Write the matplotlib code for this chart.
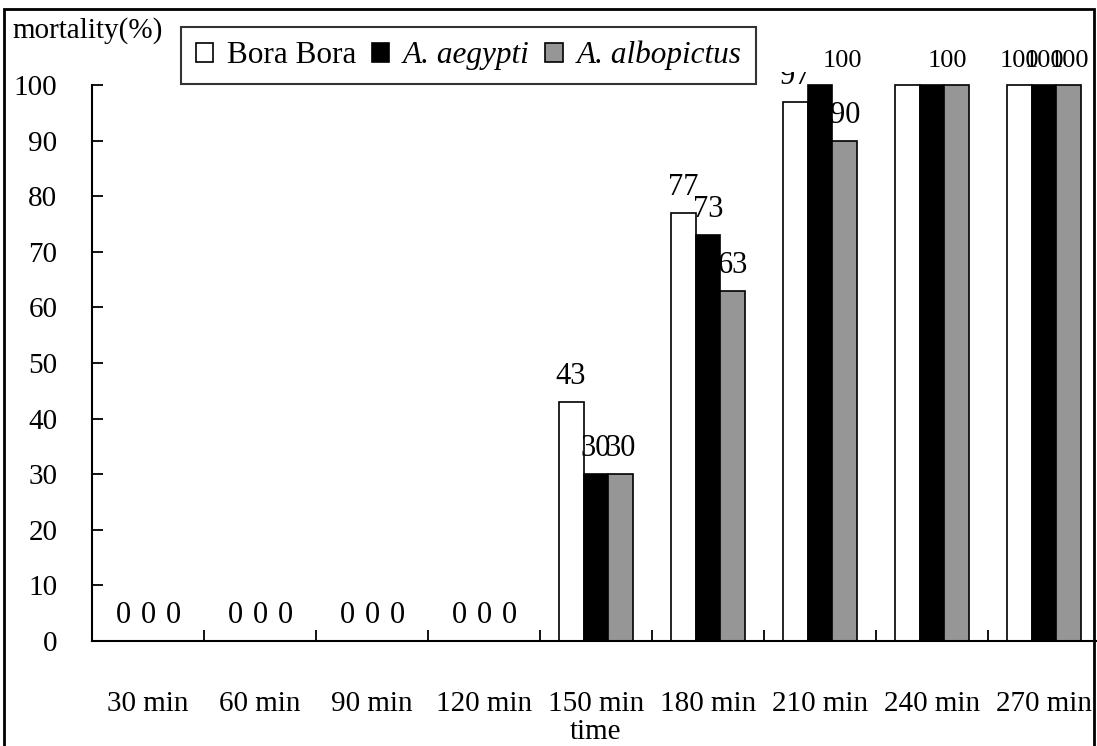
import matplotlib
matplotlib.use("Agg")
import matplotlib.pyplot as plt
import numpy as np
from matplotlib.patches import Rectangle
from matplotlib.transforms import Bbox, TransformedBbox

# ---- data -------------------------------------------------------------
categories = ["30 min", "60 min", "90 min", "120 min", "150 min",
              "180 min", "210 min", "240 min", "270 min"]
series_names = ["Bora Bora", "A. aegypti", "A. albopictus"]
bora_bora = [0, 0, 0, 0, 43, 77, 97, 100, 100]
aegypti = [0, 0, 0, 0, 30, 73, 100, 100, 100]
albopictus = [0, 0, 0, 0, 30, 63, 90, 100, 100]
y_ticks = [0, 10, 20, 30, 40, 50, 60, 70, 80, 90, 100]

# ---- style ------------------------------------------------------------
plt.rcParams["font.family"] = ["Liberation Serif", "DejaVu Serif"]
W, H = 1097, 746
bar_colors = ["white", "black", "#969696"]
bar_width = 0.223
# (category, series) -> horizontal nudge of the value label in points
label_shift = {(6, 1): 16, (7, 1): 11}
# value labels left out where they would pile on top of each other
hidden_labels = {(7, 0), (7, 2)}
# the "97" label is partly covered by the background of the "100" label
covered_label = (6, 0)
cover_level = 102.3

fig = plt.figure(figsize=(W / 100, H / 100), dpi=100)
ax = fig.add_axes([92 / W, 1 - 641 / H, (1100 - 92) / W, (641 - 85) / H])

x = np.arange(len(categories))
series = [bora_bora, aegypti, albopictus]

for i, (vals, col, name) in enumerate(zip(series, bar_colors, series_names)):
    ax.bar(x + (i - 1) * bar_width, vals, bar_width, color=col,
           edgecolor="black", linewidth=1.2, label=name, clip_on=False,
           zorder=2)

for i, vals in enumerate(series):
    for j, v in enumerate(vals):
        if (j, i) in hidden_labels:
            continue
        t = ax.annotate(f"{v:g}", xy=(x[j] + (i - 1) * bar_width, v),
                        xytext=(label_shift.get((j, i), 0), 13),
                        textcoords="offset points", ha="center",
                        va="baseline", fontsize=19 if v >= 100 else 22,
                        zorder=3, annotation_clip=False)
        if (j, i) == covered_label:
            t.set_clip_box(TransformedBbox(
                Bbox.from_extents(-1, -10, len(categories) + 1, cover_level),
                ax.transData))
            t.set_clip_on(True)

ax.set_xlim(-0.5, len(categories) - 0.5)
ax.set_ylim(0, 100)
ax.set_xticks(x)
ax.set_xticklabels(categories)
ax.set_xticks(np.arange(0.5, len(categories), 1.0), minor=True)
ax.set_yticks(y_ticks)

ax.tick_params(axis="x", which="major", length=0, pad=36, labelsize=21)
ax.tick_params(axis="x", which="minor", direction="in", length=8, width=1.3)
ax.tick_params(axis="y", direction="in", length=8, width=1.3, pad=25,
               labelsize=21)

for side in ("top", "right"):
    ax.spines[side].set_visible(False)
for side in ("left", "bottom"):
    ax.spines[side].set_linewidth(1.5)

ax.set_xlabel("time", fontsize=21)
ax.xaxis.set_label_coords(0.5, -(719 - 641) / (641 - 85))

fig.text(12 / W, 1 - 31 / H, "mortality(%)", ha="left", va="center",
         fontsize=21)

handles, labels = ax.get_legend_handles_labels()
leg = fig.legend(handles, labels, loc="center",
                 bbox_to_anchor=(468.5 / W, 1 - 55.5 / H), ncol=3,
                 frameon=True, fancybox=False, edgecolor="black",
                 fontsize=22.5, handlelength=0.55, handleheight=0.55,
                 handletextpad=0.45, columnspacing=0.5, borderpad=0.45,
                 borderaxespad=0)
leg.get_frame().set_linewidth(1.5)
for txt in leg.get_texts()[1:]:
    txt.set_fontstyle("italic")

# outer frame of the chart
fig.add_artist(Rectangle((4 / W, -0.05), (1094 - 4) / W, 1.05 - 9 / H,
                         transform=fig.transFigure, fill=False,
                         edgecolor="black", linewidth=2))

fig.savefig("out.png", dpi=100)
